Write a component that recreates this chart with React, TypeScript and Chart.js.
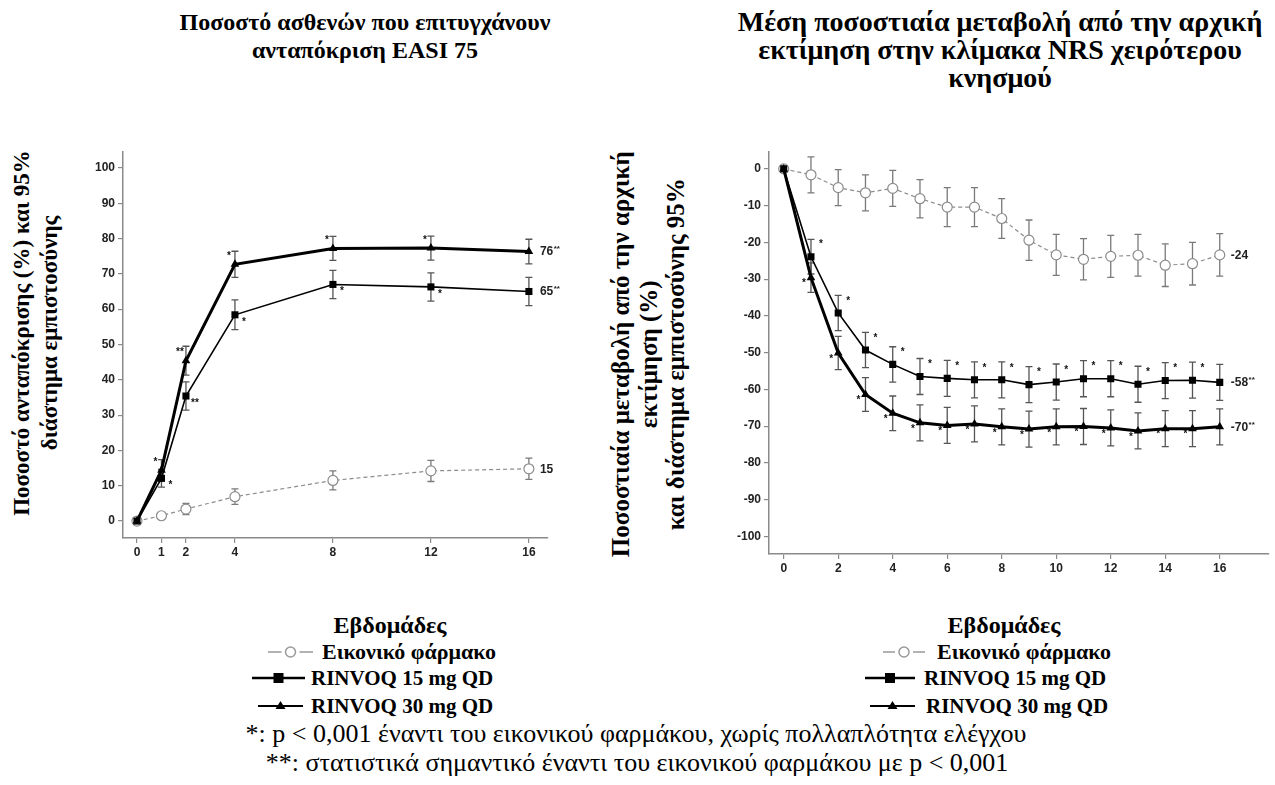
import React, { useEffect, useRef } from 'react';
import { Chart, registerables } from 'chart.js';

Chart.register(...registerables);

// ---------- Left chart: EASI 75 ----------
const leftWeeks = [0, 1, 2, 4, 8, 12, 16];
const leftXTicks = [0, 1, 2, 4, 8, 12, 16];
const leftYTicks = [0, 10, 20, 30, 40, 50, 60, 70, 80, 90, 100];
const leftPlacebo = [0, 1.5, 3.4, 6.9, 11.5, 14.2, 14.8];
const leftPlaceboErr = [0, 0.8, 1.6, 2.2, 2.7, 3.0, 3.0];
const left15 = [0, 12.1, 35.4, 58.4, 67.0, 66.3, 65.0];
const left15Err = [0, 2.5, 4.0, 4.2, 4.0, 4.0, 4.0];
const left30 = [0, 14.4, 45.4, 72.7, 77.2, 77.3, 76.3];
const left30Err = [0, 3.0, 4.1, 3.7, 3.4, 3.4, 3.5];
const left15Sig = ['', '*', '**', '*', '*', '*', ''];
const left30Sig = ['', '*', '**', '*', '*', '*', ''];
const leftEndLabels = [['15', ''], ['65', '**'], ['76', '**']];

// ---------- Right chart: NRS itch ----------
const rightWeeks = [0, 1, 2, 3, 4, 5, 6, 7, 8, 9, 10, 11, 12, 13, 14, 15, 16];
const rightXTicks = [0, 2, 4, 6, 8, 10, 12, 14, 16];
const rightYTicks = [0, -10, -20, -30, -40, -50, -60, -70, -80, -90, -100];
const rightPlacebo = [0, -1.6, -5.1, -6.5, -5.3, -8.1, -10.4, -10.4, -13.5, -19.4, -23.4, -24.6, -23.8, -23.5, -26.2, -25.8, -23.4];
const rightPlaceboErr = [0, 4.9, 4.9, 4.9, 4.9, 5.2, 5.3, 5.3, 5.4, 5.5, 5.6, 5.6, 5.7, 5.7, 5.8, 5.8, 5.8];
const right15 = [0, -23.9, -39.2, -49.3, -53.2, -56.5, -57.0, -57.4, -57.4, -58.7, -58.0, -57.1, -57.1, -58.6, -57.6, -57.5, -58.1];
const right15Err = [0, 4.7, 4.8, 4.8, 4.8, 4.9, 4.9, 4.9, 4.9, 4.9, 4.9, 4.9, 4.9, 4.9, 4.9, 4.9, 4.9];
const right30 = [0, -29.6, -50.1, -61.4, -66.5, -69.1, -69.8, -69.4, -70.2, -70.8, -70.2, -70.1, -70.5, -71.3, -70.7, -70.7, -70.2];
const right30Err = [0, 4.0, 4.5, 4.6, 4.7, 4.9, 4.9, 4.9, 4.9, 4.9, 4.9, 4.9, 4.9, 4.9, 4.9, 4.9, 4.9];
const right15Sig = ['', '*', '*', '*', '*', '*', '*', '*', '*', '*', '*', '*', '*', '*', '*', '*', ''];
const right30Sig = ['', '*', '*', '*', '*', '*', '*', '*', '*', '*', '*', '*', '*', '*', '*', '*', ''];
const rightEndLabels = [['-24', ''], ['-58', '**'], ['-70', '**']];

const seriesNames = ['Εικονικό φάρμακο', 'RINVOQ 15 mg QD', 'RINVOQ 30 mg QD'];

const PLACEBO = '#8c8c8c';
const BLACK = '#000000';

const annotatePlugin = {
  id: 'annotate',
  beforeDatasetsDraw(chart: any) {
    const ctx = chart.ctx;
    const ys = chart.scales.y;
    chart.data.datasets.forEach((ds: any, i: number) => {
      const meta = chart.getDatasetMeta(i);
      ctx.save();
      ctx.strokeStyle = ds.errColor;
      ctx.lineWidth = 1.3;
      meta.data.forEach((pt: any, j: number) => {
        const e = ds.err[j];
        if (!e) return;
        const v = ds.data[j].y;
        const yt = ys.getPixelForValue(v + e);
        const yb = ys.getPixelForValue(v - e);
        const x = pt.x;
        ctx.beginPath();
        ctx.moveTo(x, yt);
        ctx.lineTo(x, yb);
        ctx.moveTo(x - 3.5, yt);
        ctx.lineTo(x + 3.5, yt);
        ctx.moveTo(x - 3.5, yb);
        ctx.lineTo(x + 3.5, yb);
        ctx.stroke();
      });
      ctx.restore();
    });
  },
  afterDatasetsDraw(chart: any) {
    const ctx = chart.ctx;
    chart.data.datasets.forEach((ds: any, i: number) => {
      const meta = chart.getDatasetMeta(i);
      ctx.save();
      ctx.fillStyle = '#111';
      ctx.font = 'bold 10px "Liberation Sans", Arial, sans-serif';
      ctx.textAlign = 'center';
      ctx.textBaseline = 'middle';
      meta.data.forEach((pt: any, j: number) => {
        const s = ds.sig ? ds.sig[j] : '';
        if (!s) return;
        ctx.fillText(s, pt.x + ds.sigDx, pt.y + ds.sigDy);
      });
      const last = meta.data[meta.data.length - 1];
      if (ds.endLabel) {
        const [num, stars] = ds.endLabel;
        ctx.textAlign = 'left';
        ctx.font = 'bold 12px "Liberation Sans", Arial, sans-serif';
        ctx.fillStyle = '#222';
        const x0 = last.x + 11;
        ctx.fillText(num, x0, last.y + 0.5);
        if (stars) {
          const w = ctx.measureText(num).width;
          ctx.font = 'bold 8px "Liberation Sans", Arial, sans-serif';
          ctx.fillText(stars, x0 + w + 0.5, last.y - 2.5);
        }
      }
      ctx.restore();
    });
  },
};

function toPts(xs: number[], ys: number[]) {
  return xs.map((x, i) => ({ x, y: ys[i] }));
}

function buildConfig(opts: any) {
  const tickFont = { family: '"Liberation Sans", Arial, sans-serif', size: 12, weight: 'bold' as const };
  return {
    type: 'line' as const,
    data: {
      datasets: [
        {
          label: seriesNames[0],
          data: toPts(opts.weeks, opts.placebo),
          err: opts.placeboErr,
          errColor: '#7a7a7a',
          endLabel: opts.endLabels[0],
          borderColor: PLACEBO,
          borderWidth: 1.2,
          borderDash: [4, 3],
          pointStyle: 'circle',
          pointRadius: 5,
          pointBorderWidth: 1.2,
          pointBackgroundColor: '#ffffff',
          pointBorderColor: PLACEBO,
          order: 2,
        },
        {
          label: seriesNames[1],
          data: toPts(opts.weeks, opts.r15),
          err: opts.r15Err,
          errColor: '#555555',
          sig: opts.r15Sig,
          sigDx: opts.sig15[0],
          sigDy: opts.sig15[1],
          endLabel: opts.endLabels[1],
          borderColor: BLACK,
          borderWidth: 1.6,
          pointStyle: 'rect',
          pointRadius: 5,
          pointBorderWidth: 0,
          pointBackgroundColor: BLACK,
          pointBorderColor: BLACK,
          order: 1,
        },
        {
          label: seriesNames[2],
          data: toPts(opts.weeks, opts.r30),
          err: opts.r30Err,
          errColor: '#555555',
          sig: opts.r30Sig,
          sigDx: opts.sig30[0],
          sigDy: opts.sig30[1],
          endLabel: opts.endLabels[2],
          borderColor: BLACK,
          borderWidth: 3,
          pointStyle: 'triangle',
          pointRadius: 5,
          pointBorderWidth: 0,
          pointBackgroundColor: BLACK,
          pointBorderColor: BLACK,
          order: 0,
        },
      ],
    },
    options: {
      animation: false,
      responsive: false,
      maintainAspectRatio: false,
      layout: { padding: opts.padding },
      plugins: { legend: { display: false }, tooltip: { enabled: false }, title: { display: false } },
      scales: {
        x: {
          type: 'linear',
          min: opts.xMin,
          max: opts.xMax,
          afterBuildTicks: (s: any) => {
            s.ticks = opts.xTicks.map((v: number) => ({ value: v }));
          },
          afterFit: (s: any) => {
            s.height = 22;
          },
          grid: { display: true, drawOnChartArea: false, drawTicks: true, tickLength: 5, color: '#8a8a8a', lineWidth: 1.2 },
          border: { display: true, color: '#8a8a8a', width: 1.5 },
          ticks: { font: tickFont, color: '#222', padding: 2, maxRotation: 0, autoSkip: false },
        },
        y: {
          type: 'linear',
          min: opts.yMin,
          max: opts.yMax,
          afterBuildTicks: (s: any) => {
            s.ticks = opts.yTicks.map((v: number) => ({ value: v }));
          },
          afterFit: (s: any) => {
            s.width = opts.yWidth;
          },
          grid: { display: true, drawOnChartArea: false, drawTicks: true, tickLength: 5, color: '#8a8a8a', lineWidth: 1.2 },
          border: { display: true, color: '#8a8a8a', width: 1.5 },
          ticks: { font: tickFont, color: '#222', padding: 3, autoSkip: false },
        },
      },
    },
    plugins: [annotatePlugin],
  };
}

function ChartCanvas(props: { cfg: any; left: number; top: number; width: number; height: number }) {
  const ref = useRef<HTMLCanvasElement | null>(null);
  useEffect(() => {
    if (!ref.current) return;
    const chart = new Chart(ref.current, props.cfg);
    return () => chart.destroy();
  }, []);
  return (
    <canvas
      ref={ref}
      width={props.width}
      height={props.height}
      style={{ position: 'absolute', left: props.left, top: props.top, width: props.width, height: props.height }}
    />
  );
}

const serif = '"Liberation Serif", "Times New Roman", serif';

function CenterText(props: { cx: number; top: number; size: number; bold?: boolean; lh: number; lines: string[] }) {
  return (
    <div
      style={{
        position: 'absolute',
        left: props.cx - 450,
        width: 900,
        top: props.top,
        textAlign: 'center',
        fontFamily: serif,
        fontSize: props.size,
        fontWeight: props.bold ? 'bold' : 'normal',
        lineHeight: props.lh + 'px',
        color: '#000',
        whiteSpace: 'nowrap',
      }}
    >
      {props.lines.map((l, i) => (
        <div key={i}>{l}</div>
      ))}
    </div>
  );
}

function VText(props: { cx: number; cy: number; lines: string[]; size: number; lh: number }) {
  const W = 520;
  const H = props.lines.length * props.lh;
  return (
    <div
      style={{
        position: 'absolute',
        left: props.cx - W / 2,
        top: props.cy - H / 2,
        width: W,
        height: H,
        transform: 'rotate(-90deg)',
        transformOrigin: 'center center',
        textAlign: 'center',
        fontFamily: serif,
        fontWeight: 'bold',
        fontSize: props.size,
        lineHeight: props.lh + 'px',
        whiteSpace: 'nowrap',
      }}
    >
      {props.lines.map((l, i) => (
        <div key={i}>{l}</div>
      ))}
    </div>
  );
}

function LegendIcon(props: { kind: number; left: number; cy: number; w: number }) {
  const h = 14;
  const mid = h / 2;
  const c = props.w / 2;
  let content: any = null;
  if (props.kind === 0) {
    content = (
      <g>
        <line x1={0} y1={mid} x2={c - 9} y2={mid} stroke="#999" strokeWidth={1.5} />
        <circle cx={c} cy={mid} r={5} fill="#fff" stroke="#999" strokeWidth={1.5} />
        <line x1={c + 9} y1={mid} x2={props.w} y2={mid} stroke="#999" strokeWidth={1.5} />
      </g>
    );
  } else if (props.kind === 1) {
    content = (
      <g>
        <line x1={0} y1={mid} x2={props.w} y2={mid} stroke="#000" strokeWidth={2.5} />
        <rect x={c - 5} y={mid - 5} width={10} height={10} fill="#000" />
      </g>
    );
  } else {
    content = (
      <g>
        <line x1={0} y1={mid} x2={props.w} y2={mid} stroke="#000" strokeWidth={2} />
        <polygon points={`${c - 5},${mid + 3} ${c + 5},${mid + 3} ${c},${mid - 5}`} fill="#000" />
      </g>
    );
  }
  return (
    <svg width={props.w} height={h} style={{ position: 'absolute', left: props.left, top: props.cy - h / 2 }}>
      {content}
    </svg>
  );
}

function Legend(props: { cx: number; icons: number[][]; textLeft: number[] }) {
  const rows = [652, 678, 706];
  const sizes = [22, 21, 21];
  return (
    <>
      <CenterText cx={props.cx} top={611} size={24} bold lh={28} lines={['Εβδομάδες']} />
      {seriesNames.map((n, i) => (
        <React.Fragment key={i}>
          <LegendIcon kind={i} left={props.icons[i][0]} w={props.icons[i][1]} cy={rows[i]} />
          <div
            style={{
              position: 'absolute',
              left: props.textLeft[i],
              top: rows[i] - 14,
              lineHeight: '28px',
              fontFamily: serif,
              fontWeight: 'bold',
              fontSize: sizes[i],
              whiteSpace: 'nowrap',
            }}
          >
            {n}
          </div>
        </React.Fragment>
      ))}
    </>
  );
}

export default function App() {
  const leftCfg = buildConfig({
    weeks: leftWeeks,
    placebo: leftPlacebo,
    placeboErr: leftPlaceboErr,
    r15: left15,
    r15Err: left15Err,
    r30: left30,
    r30Err: left30Err,
    r15Sig: left15Sig,
    r30Sig: left30Sig,
    sig15: [9, 7],
    sig30: [-6, -8],
    endLabels: leftEndLabels,
    xTicks: leftXTicks,
    yTicks: leftYTicks,
    xMin: -0.57,
    xMax: 16.78,
    yMin: -4.8,
    yMax: 104.5,
    yWidth: 43,
    padding: { top: 12, right: 30, left: 0, bottom: 0 },
  });
  const rightCfg = buildConfig({
    weeks: rightWeeks,
    placebo: rightPlacebo,
    placeboErr: rightPlaceboErr,
    r15: right15,
    r15Err: right15Err,
    r30: right30,
    r30Err: right30Err,
    r15Sig: right15Sig,
    r30Sig: right30Sig,
    sig15: [10, -12],
    sig30: [-7, 6],
    endLabels: rightEndLabels,
    xTicks: rightXTicks,
    yTicks: rightYTicks,
    xMin: -0.54,
    xMax: 17.8,
    yMin: -104.8,
    yMax: 4.6,
    yWidth: 49,
    padding: { top: 12, right: 0, left: 0, bottom: 0 },
  });

  return (
    <div style={{ position: 'absolute', left: 0, top: 0, width: 1275, height: 785, overflow: 'hidden', background: '#fff' }}>
      <CenterText cx={365} top={8} size={24} bold lh={28} lines={['Ποσοστό ασθενών που επιτυγχάνουν', 'ανταπόκριση EASI 75']} />
      <CenterText
        cx={1000}
        top={8}
        size={28}
        bold
        lh={28}
        lines={['Μέση ποσοστιαία μεταβολή από την αρχική', 'εκτίμηση στην κλίμακα NRS χειρότερου', 'κνησμού']}
      />
      <VText cx={36} cy={333} size={23} lh={28} lines={['Ποσοστό ανταπόκρισης (%) και 95%', 'διάστημα εμπιστοσύνης']} />
      <VText
        cx={648}
        cy={354}
        size={25}
        lh={27.5}
        lines={['Ποσοστιαία μεταβολή από την αρχική', 'εκτίμηση (%)', 'και διάστημα εμπιστοσύνης 95%']}
      />
      <ChartCanvas cfg={leftCfg} left={80} top={140} width={498} height={420} />
      <ChartCanvas cfg={rightCfg} left={720} top={140} width={555} height={436} />
      <Legend cx={390} icons={[[268, 45], [252, 53], [258, 45]]} textLeft={[322, 311, 311]} />
      <Legend cx={1004} icons={[[883, 42], [865, 50], [870, 45]]} textLeft={[937, 924, 926]} />
      <CenterText cx={636} top={719} size={26} lh={29} lines={['*: p < 0,001 έναντι του εικονικού φαρμάκου, χωρίς πολλαπλότητα ελέγχου']} />
      <CenterText cx={637} top={748} size={26} lh={29} lines={['**: στατιστικά σημαντικό έναντι του εικονικού φαρμάκου με p < 0,001']} />
    </div>
  );
}
